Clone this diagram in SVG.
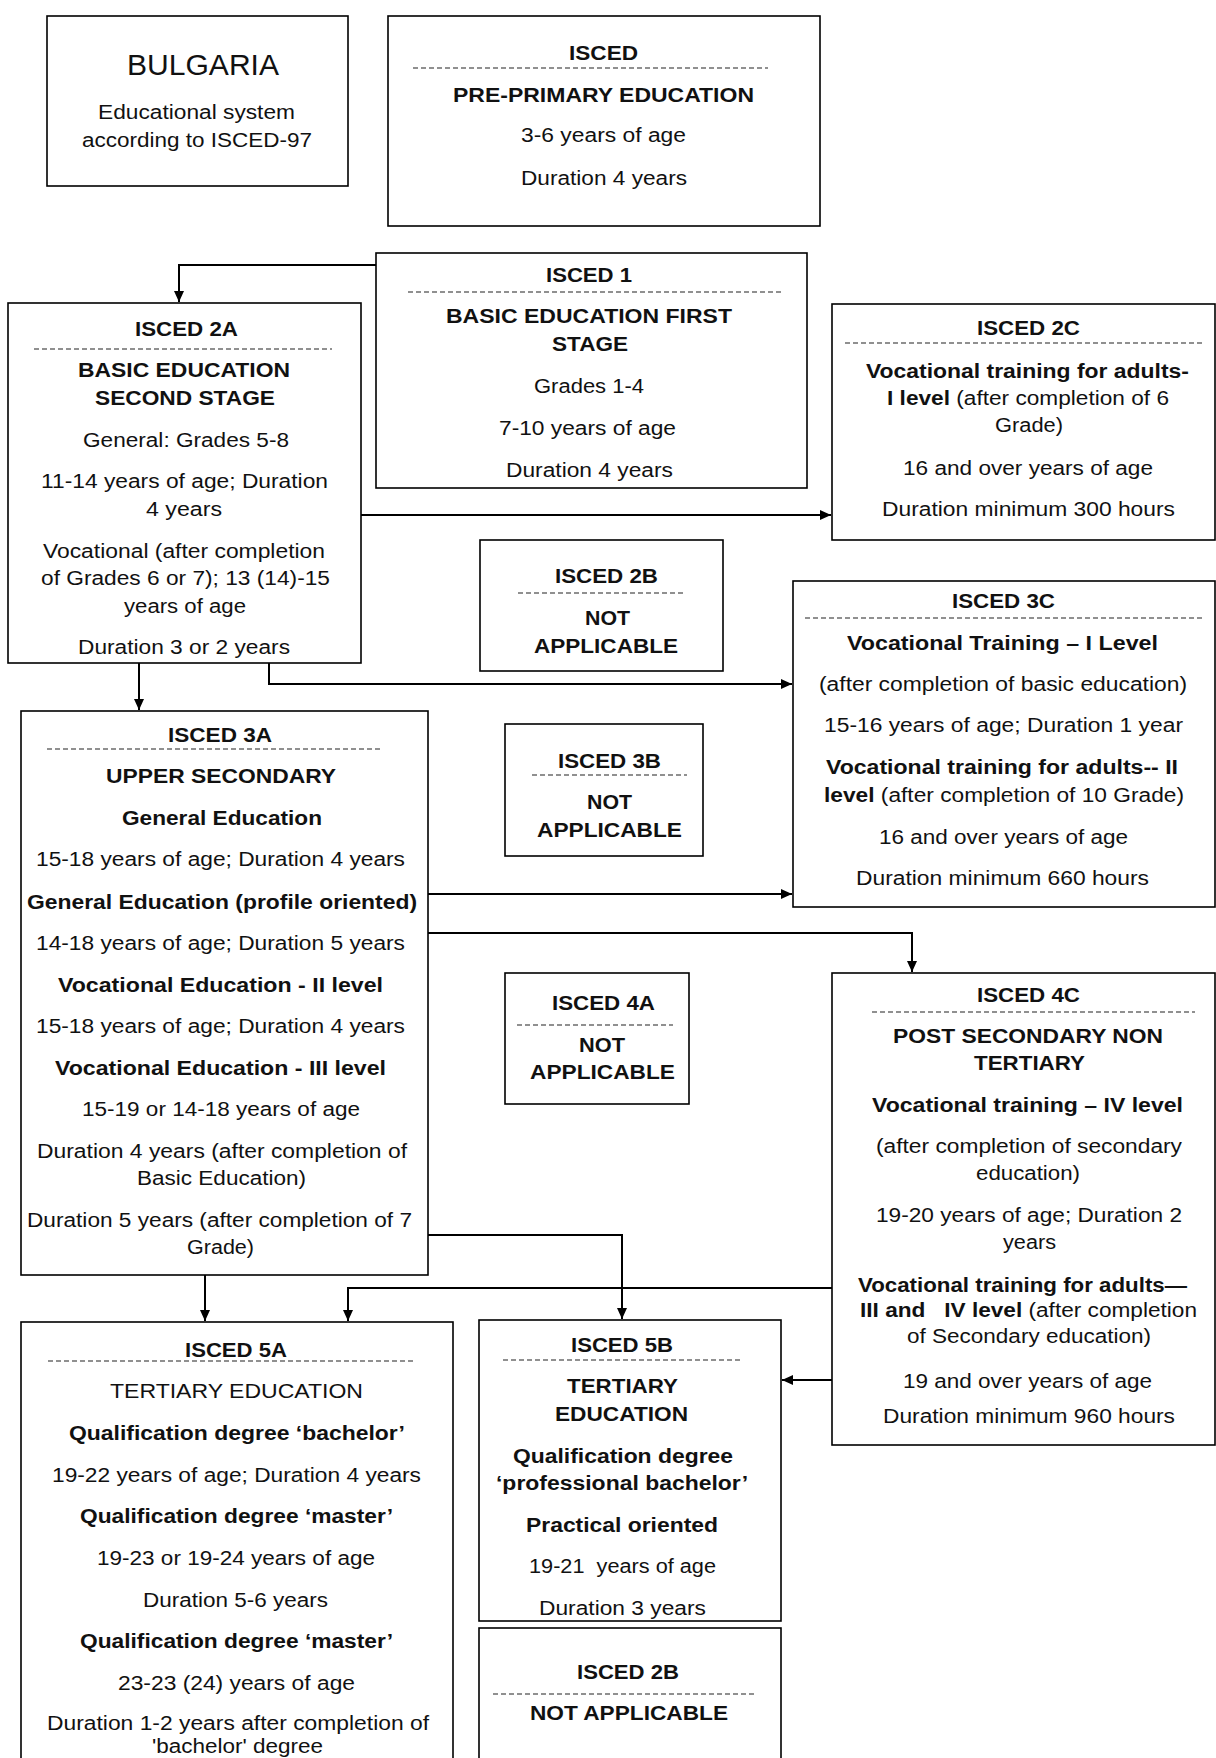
<svg xmlns="http://www.w3.org/2000/svg" width="1216" height="1758" viewBox="0 0 1216 1758">
<style>
.box{fill:#fff;stroke:#000;stroke-width:1.6}
.t{font-family:"Liberation Sans",Arial,sans-serif;font-size:20px;fill:#111}
.b{font-weight:bold}
.dash{stroke:#222;stroke-width:1.2;stroke-dasharray:5 3}
.conn{stroke:#000;stroke-width:2;fill:none}
</style>
<defs>
<marker id="arr" markerUnits="userSpaceOnUse" markerWidth="12" markerHeight="12" refX="11" refY="5" orient="auto">
<path d="M0,0 L11,5 L0,10 z" fill="#000"/>
</marker>
</defs>
<rect x="0" y="0" width="1216" height="1758" fill="#fff"/>

<g id="connectors">
<path class="conn" d="M376,265 H179 V302" marker-end="url(#arr)"/>
<path class="conn" d="M361,515 H831" marker-end="url(#arr)"/>
<path class="conn" d="M139,663 V710" marker-end="url(#arr)"/>
<path class="conn" d="M269,663 V684 H792" marker-end="url(#arr)"/>
<path class="conn" d="M428,894 H792" marker-end="url(#arr)"/>
<path class="conn" d="M428,933 H912 V972" marker-end="url(#arr)"/>
<path class="conn" d="M205,1275 V1321" marker-end="url(#arr)"/>
<path class="conn" d="M428,1235 H622 V1319" marker-end="url(#arr)"/>
<path class="conn" d="M832,1288 H348 V1321" marker-end="url(#arr)"/>
<path class="conn" d="M832,1380 H782" marker-end="url(#arr)"/>
</g>

<g id="bulgaria">
<rect class="box" x="47" y="16" width="301" height="170"/>
<text class="t" x="127" y="75" style="font-size:30px" textLength="152" lengthAdjust="spacingAndGlyphs">BULGARIA</text>
<text class="t" x="98" y="119" textLength="197" lengthAdjust="spacingAndGlyphs">Educational system</text>
<text class="t" x="82" y="147" textLength="230" lengthAdjust="spacingAndGlyphs">according to ISCED-97</text>
</g>

<g id="isced0">
<rect class="box" x="388" y="16" width="432" height="210"/>
<text class="t b" x="569" y="60" textLength="69" lengthAdjust="spacingAndGlyphs">ISCED</text>
<line class="dash" x1="413" y1="68" x2="768" y2="68"/>
<text class="t b" x="453" y="102" textLength="301" lengthAdjust="spacingAndGlyphs">PRE-PRIMARY EDUCATION</text>
<text class="t" x="521" y="142" textLength="165" lengthAdjust="spacingAndGlyphs">3-6 years of age</text>
<text class="t" x="521" y="185" textLength="166" lengthAdjust="spacingAndGlyphs">Duration 4 years</text>
</g>

<g id="isced1">
<rect class="box" x="376" y="253" width="431" height="235"/>
<text class="t b" x="546" y="282" textLength="86" lengthAdjust="spacingAndGlyphs">ISCED 1</text>
<line class="dash" x1="408" y1="292" x2="782" y2="292"/>
<text class="t b" x="446" y="323" textLength="286" lengthAdjust="spacingAndGlyphs">BASIC EDUCATION FIRST</text>
<text class="t b" x="552" y="351" textLength="76" lengthAdjust="spacingAndGlyphs">STAGE</text>
<text class="t" x="534" y="393" textLength="110" lengthAdjust="spacingAndGlyphs">Grades 1-4</text>
<text class="t" x="499" y="435" textLength="177" lengthAdjust="spacingAndGlyphs">7-10 years of age</text>
<text class="t" x="506" y="477" textLength="167" lengthAdjust="spacingAndGlyphs">Duration 4 years</text>
</g>

<g id="isced2a">
<rect class="box" x="8" y="303" width="353" height="360"/>
<text class="t b" x="135" y="336" textLength="103" lengthAdjust="spacingAndGlyphs">ISCED 2A</text>
<line class="dash" x1="34" y1="349" x2="332" y2="349"/>
<text class="t b" x="78" y="377" textLength="212" lengthAdjust="spacingAndGlyphs">BASIC EDUCATION</text>
<text class="t b" x="95" y="405" textLength="180" lengthAdjust="spacingAndGlyphs">SECOND STAGE</text>
<text class="t" x="83" y="447" textLength="206" lengthAdjust="spacingAndGlyphs">General: Grades 5-8</text>
<text class="t" x="41" y="488" textLength="287" lengthAdjust="spacingAndGlyphs">11-14 years of age; Duration</text>
<text class="t" x="146" y="516" textLength="76" lengthAdjust="spacingAndGlyphs">4 years</text>
<text class="t" x="43" y="558" textLength="282" lengthAdjust="spacingAndGlyphs">Vocational (after completion</text>
<text class="t" x="41" y="585" textLength="289" lengthAdjust="spacingAndGlyphs">of Grades 6 or 7); 13 (14)-15</text>
<text class="t" x="124" y="613" textLength="122" lengthAdjust="spacingAndGlyphs">years of age</text>
<text class="t" x="78" y="654" textLength="212" lengthAdjust="spacingAndGlyphs">Duration 3 or 2 years</text>
</g>

<g id="isced2c">
<rect class="box" x="832" y="304" width="383" height="236"/>
<text class="t b" x="977" y="335" textLength="103" lengthAdjust="spacingAndGlyphs">ISCED 2C</text>
<line class="dash" x1="845" y1="343" x2="1202" y2="343"/>
<text class="t b" x="866" y="378" textLength="323" lengthAdjust="spacingAndGlyphs">Vocational training for adults-</text>
<text class="t" x="887" y="405" textLength="282" lengthAdjust="spacingAndGlyphs"><tspan class="b">I level</tspan> (after completion of 6</text>
<text class="t" x="995" y="432" textLength="68" lengthAdjust="spacingAndGlyphs">Grade)</text>
<text class="t" x="903" y="475" textLength="250" lengthAdjust="spacingAndGlyphs">16 and over years of age</text>
<text class="t" x="882" y="516" textLength="293" lengthAdjust="spacingAndGlyphs">Duration minimum 300 hours</text>
</g>

<g id="isced2b">
<rect class="box" x="480" y="540" width="243" height="131"/>
<text class="t b" x="555" y="583" textLength="103" lengthAdjust="spacingAndGlyphs">ISCED 2B</text>
<line class="dash" x1="518" y1="593" x2="685" y2="593"/>
<text class="t b" x="585" y="625" textLength="45" lengthAdjust="spacingAndGlyphs">NOT</text>
<text class="t b" x="534" y="653" textLength="144" lengthAdjust="spacingAndGlyphs">APPLICABLE</text>
</g>

<g id="isced3c">
<rect class="box" x="793" y="581" width="422" height="326"/>
<text class="t b" x="952" y="608" textLength="103" lengthAdjust="spacingAndGlyphs">ISCED 3C</text>
<line class="dash" x1="805" y1="618" x2="1202" y2="618"/>
<text class="t b" x="847" y="650" textLength="311" lengthAdjust="spacingAndGlyphs">Vocational Training – I Level</text>
<text class="t" x="819" y="691" textLength="368" lengthAdjust="spacingAndGlyphs">(after completion of basic education)</text>
<text class="t" x="824" y="732" textLength="359" lengthAdjust="spacingAndGlyphs">15-16 years of age; Duration 1 year</text>
<text class="t b" x="826" y="774" textLength="352" lengthAdjust="spacingAndGlyphs">Vocational training for adults-- II</text>
<text class="t" x="824" y="802" textLength="360" lengthAdjust="spacingAndGlyphs"><tspan class="b">level</tspan> (after completion of 10 Grade)</text>
<text class="t" x="879" y="844" textLength="249" lengthAdjust="spacingAndGlyphs">16 and over years of age</text>
<text class="t" x="856" y="885" textLength="293" lengthAdjust="spacingAndGlyphs">Duration minimum 660 hours</text>
</g>

<g id="isced3a">
<rect class="box" x="21" y="711" width="407" height="564"/>
<text class="t b" x="168" y="742" textLength="104" lengthAdjust="spacingAndGlyphs">ISCED 3A</text>
<line class="dash" x1="47" y1="749" x2="383" y2="749"/>
<text class="t b" x="106" y="783" textLength="230" lengthAdjust="spacingAndGlyphs">UPPER SECONDARY</text>
<text class="t b" x="122" y="825" textLength="200" lengthAdjust="spacingAndGlyphs">General Education</text>
<text class="t" x="36" y="866" textLength="369" lengthAdjust="spacingAndGlyphs">15-18 years of age; Duration 4 years</text>
<text class="t b" x="27" y="909" textLength="390" lengthAdjust="spacingAndGlyphs">General Education (profile oriented)</text>
<text class="t" x="36" y="950" textLength="369" lengthAdjust="spacingAndGlyphs">14-18 years of age; Duration 5 years</text>
<text class="t b" x="58" y="992" textLength="325" lengthAdjust="spacingAndGlyphs">Vocational Education - II level</text>
<text class="t" x="36" y="1033" textLength="369" lengthAdjust="spacingAndGlyphs">15-18 years of age; Duration 4 years</text>
<text class="t b" x="55" y="1075" textLength="331" lengthAdjust="spacingAndGlyphs">Vocational Education - III level</text>
<text class="t" x="82" y="1116" textLength="278" lengthAdjust="spacingAndGlyphs">15-19 or 14-18 years of age</text>
<text class="t" x="37" y="1158" textLength="370" lengthAdjust="spacingAndGlyphs">Duration 4 years (after completion of</text>
<text class="t" x="137" y="1185" textLength="169" lengthAdjust="spacingAndGlyphs">Basic Education)</text>
<text class="t" x="27" y="1227" textLength="385" lengthAdjust="spacingAndGlyphs">Duration 5 years (after completion of 7</text>
<text class="t" x="187" y="1254" textLength="67" lengthAdjust="spacingAndGlyphs">Grade)</text>
</g>

<g id="isced3b">
<rect class="box" x="505" y="724" width="198" height="132"/>
<text class="t b" x="558" y="768" textLength="103" lengthAdjust="spacingAndGlyphs">ISCED 3B</text>
<line class="dash" x1="532" y1="775" x2="687" y2="775"/>
<text class="t b" x="587" y="809" textLength="45" lengthAdjust="spacingAndGlyphs">NOT</text>
<text class="t b" x="537" y="837" textLength="145" lengthAdjust="spacingAndGlyphs">APPLICABLE</text>
</g>

<g id="isced4a">
<rect class="box" x="505" y="973" width="184" height="131"/>
<text class="t b" x="552" y="1010" textLength="103" lengthAdjust="spacingAndGlyphs">ISCED 4A</text>
<line class="dash" x1="517" y1="1025" x2="673" y2="1025"/>
<text class="t b" x="579" y="1052" textLength="46" lengthAdjust="spacingAndGlyphs">NOT</text>
<text class="t b" x="530" y="1079" textLength="145" lengthAdjust="spacingAndGlyphs">APPLICABLE</text>
</g>

<g id="isced4c">
<rect class="box" x="832" y="973" width="383" height="472"/>
<text class="t b" x="977" y="1002" textLength="103" lengthAdjust="spacingAndGlyphs">ISCED 4C</text>
<line class="dash" x1="872" y1="1012" x2="1195" y2="1012"/>
<text class="t b" x="893" y="1043" textLength="270" lengthAdjust="spacingAndGlyphs">POST SECONDARY NON</text>
<text class="t b" x="974" y="1070" textLength="111" lengthAdjust="spacingAndGlyphs">TERTIARY</text>
<text class="t b" x="872" y="1112" textLength="311" lengthAdjust="spacingAndGlyphs">Vocational training – IV level</text>
<text class="t" x="876" y="1153" textLength="306" lengthAdjust="spacingAndGlyphs">(after completion of secondary</text>
<text class="t" x="976" y="1180" textLength="104" lengthAdjust="spacingAndGlyphs">education)</text>
<text class="t" x="876" y="1222" textLength="306" lengthAdjust="spacingAndGlyphs">19-20 years of age; Duration 2</text>
<text class="t" x="1003" y="1249" textLength="53" lengthAdjust="spacingAndGlyphs">years</text>
<text class="t b" x="858" y="1292" textLength="329" lengthAdjust="spacingAndGlyphs">Vocational training for adults—</text>
<text class="t" x="860" y="1317" textLength="337" lengthAdjust="spacingAndGlyphs" xml:space="preserve"><tspan class="b">III and   IV level</tspan> (after completion</text>
<text class="t" x="907" y="1343" textLength="244" lengthAdjust="spacingAndGlyphs">of Secondary education)</text>
<text class="t" x="903" y="1388" textLength="249" lengthAdjust="spacingAndGlyphs">19 and over years of age</text>
<text class="t" x="883" y="1423" textLength="292" lengthAdjust="spacingAndGlyphs">Duration minimum 960 hours</text>
</g>

<g id="isced5a">
<rect class="box" x="21" y="1322" width="432" height="460"/>
<text class="t b" x="185" y="1357" textLength="102" lengthAdjust="spacingAndGlyphs">ISCED 5A</text>
<line class="dash" x1="48" y1="1361" x2="415" y2="1361"/>
<text class="t" x="110" y="1398" textLength="253" lengthAdjust="spacingAndGlyphs">TERTIARY EDUCATION</text>
<text class="t b" x="69" y="1440" textLength="336" lengthAdjust="spacingAndGlyphs">Qualification degree ‘bachelor’</text>
<text class="t" x="52" y="1482" textLength="369" lengthAdjust="spacingAndGlyphs">19-22 years of age; Duration 4 years</text>
<text class="t b" x="80" y="1523" textLength="313" lengthAdjust="spacingAndGlyphs">Qualification degree ‘master’</text>
<text class="t" x="97" y="1565" textLength="278" lengthAdjust="spacingAndGlyphs">19-23 or 19-24 years of age</text>
<text class="t" x="143" y="1607" textLength="185" lengthAdjust="spacingAndGlyphs">Duration 5-6 years</text>
<text class="t b" x="80" y="1648" textLength="313" lengthAdjust="spacingAndGlyphs">Qualification degree ‘master’</text>
<text class="t" x="118" y="1690" textLength="237" lengthAdjust="spacingAndGlyphs">23-23 (24) years of age</text>
<text class="t" x="47" y="1730" textLength="382" lengthAdjust="spacingAndGlyphs">Duration 1-2 years after completion of</text>
<text class="t" x="152" y="1753" textLength="171" lengthAdjust="spacingAndGlyphs">'bachelor' degree</text>
</g>

<g id="isced5b">
<rect class="box" x="479" y="1320" width="302" height="301"/>
<text class="t b" x="571" y="1352" textLength="102" lengthAdjust="spacingAndGlyphs">ISCED 5B</text>
<line class="dash" x1="503" y1="1360" x2="742" y2="1360"/>
<text class="t b" x="567" y="1393" textLength="111" lengthAdjust="spacingAndGlyphs">TERTIARY</text>
<text class="t b" x="555" y="1421" textLength="133" lengthAdjust="spacingAndGlyphs">EDUCATION</text>
<text class="t b" x="513" y="1463" textLength="220" lengthAdjust="spacingAndGlyphs">Qualification degree</text>
<text class="t b" x="496" y="1490" textLength="252" lengthAdjust="spacingAndGlyphs">‘professional bachelor’</text>
<text class="t b" x="526" y="1532" textLength="192" lengthAdjust="spacingAndGlyphs">Practical oriented</text>
<text class="t" x="529" y="1573" textLength="187" lengthAdjust="spacingAndGlyphs" xml:space="preserve">19-21  years of age</text>
<text class="t" x="539" y="1615" textLength="167" lengthAdjust="spacingAndGlyphs">Duration 3 years</text>
</g>

<g id="isced2b-bottom">
<rect class="box" x="479" y="1628" width="302" height="160"/>
<text class="t b" x="577" y="1679" textLength="102" lengthAdjust="spacingAndGlyphs">ISCED 2B</text>
<line class="dash" x1="493" y1="1694" x2="756" y2="1694"/>
<text class="t b" x="530" y="1720" textLength="198" lengthAdjust="spacingAndGlyphs">NOT APPLICABLE</text>
</g>
</svg>
